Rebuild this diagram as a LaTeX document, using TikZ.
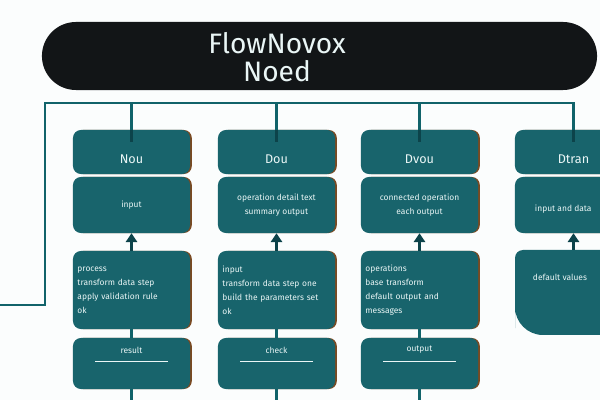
\documentclass[tikz,border=0pt]{standalone}
\usepackage{fontspec}
\setmainfont{Fira Sans}
\usepackage{tikz}
\usepackage{xcolor}
\usetikzlibrary{arrows.meta,positioning,shadows,calc}
\definecolor{pagebg}{HTML}{FBFDFD}
\definecolor{barblack}{HTML}{121517}
\definecolor{cardteal}{HTML}{18646C}
\definecolor{wireteal}{HTML}{11636A}
\definecolor{arrowdark}{HTML}{0C434A}
\definecolor{edgebrown}{HTML}{7A4A22}
\definecolor{textwhite}{HTML}{EAF6F6}
\tikzset{
  titlebar/.style={fill=barblack,rounded corners=0.85cm,
                   minimum width=13.875cm,minimum height=1.7cm,inner sep=0pt},
  card/.style={fill=cardteal,rounded corners=0.2cm,minimum width=2.925cm,
               inner sep=3pt,align=center,text=textwhite,
               drop shadow={shadow xshift=1.3pt,shadow yshift=0pt,fill=edgebrown,opacity=1}},
  headcard/.style={card,minimum height=1.1cm,font=\fontsize{9}{10}\selectfont,
                   text height=0.55cm,text depth=0pt},
  opcard/.style={card,minimum height=1.4cm,font=\fontsize{6}{10}\selectfont},
  stepcard/.style={card,minimum height=1.95cm,font=\fontsize{6}{10}\selectfont,
                   text width=2.7cm,align=left},
  outcard/.style={card,minimum height=1.275cm},
  wire/.style={draw=wireteal,line width=2pt},
  innerwire/.style={draw=arrowdark,line width=2pt},
  uparr/.style={-{Triangle[length=2.2mm,width=2.8mm]},draw=arrowdark,line width=1.6pt},
  cardrule/.style={draw=textwhite,line width=0.6pt},
  smalltxt/.style={text=textwhite,font=\fontsize{6}{8}\selectfont}
}
\begin{document}
\begin{tikzpicture}[x=0.025cm,y=-0.025cm,>=Latex]
  \fill[pagebg] (0,0) rectangle (600,400);
  \useasboundingbox (0,0) rectangle (600,400);

  \node[titlebar] (title) at (319.5,56) {};
  \node[text=textwhite,font=\fontsize{20}{20}\selectfont,align=center] (titletxt) at (277,57) {FlowNovox\\Noed};

  \coordinate (busL) at (45,103);
  \coordinate (busR) at (573.5,103);
  \coordinate (leftend) at (0,305);
  \coordinate (floor) at (0,400);

  % column 1
  \node[headcard] (c1a) at (131.5,152) {Nou};
  \node[opcard] (c1b) at (131.5,205) {input};
  \node[stepcard] (c1c) at (131.5,290) {process\\transform data step\\apply validation rule\\ok};
  \node[outcard] (c1d) at (131.5,363.5) {};
  % column 2
  \node[headcard] (c2a) at (276.5,152) {Dou};
  \node[opcard] (c2b) at (276.5,205) {operation detail text\\summary output};
  \node[stepcard] (c2c) at (276.5,290) {input\\transform data step one\\build the parameters set\\ok};
  \node[outcard] (c2d) at (276.5,363.5) {};
  % column 3
  \node[headcard] (c3a) at (419.5,152) {Dvou};
  \node[opcard] (c3b) at (419.5,205) {connected operation\\each output};
  \node[stepcard] (c3c) at (419.5,290) {operations\\base transform\\default output and\\messages};
  \node[outcard] (c3d) at (419.5,363.5) {};
  % column 4
  \node[headcard] (c4a) at (573.5,152) {Dtran};
  \node[opcard] (c4b) at (573.5,205) {};
  \node[smalltxt,anchor=west] (c4btxt) at (530,209) {input and data};
  \fill[cardteal] (573.5,250) [rounded corners=0.2cm] -- (632,250) -- (632,335)
    [rounded corners=0.7cm] -- (515,335) -- (515,300) [rounded corners=0.2cm] -- (515,250) -- cycle;
  \coordinate (c4top) at (573.5,250);
  \node[smalltxt,anchor=west] (c4c) at (528,277) {default values};

  \node[smalltxt] (c1dlbl) at ([yshift=0.34cm]c1d.center) {result};
  \node[smalltxt] (c2dlbl) at ([yshift=0.34cm]c2d.center) {check};
  \node[smalltxt] (c3dlbl) at ([yshift=0.34cm]c3d.center) {output};
  \foreach \col in {c1d,c2d,c3d}
    \draw[cardrule] ([xshift=-0.91cm,yshift=0.06cm]\col.center) -- ([xshift=0.91cm,yshift=0.06cm]\col.center);

  \draw[wire] (leftend) -| (busL) -- (busR) -- (c4a.north);
  \draw[innerwire] (c4a.north) -- ([yshift=-0.3cm]c4a.north);
  \foreach \col in {c1a,c2a,c3a}{
    \draw[wire] (\col.north |- busL) -- (\col.north);
    \draw[innerwire] (\col.north) -- ([yshift=-0.3cm]\col.north);
  }

  \draw[uparr] (c1c) -- (c1b);
  \draw[uparr] (c2c) -- (c2b);
  \draw[uparr] (c3c) -- (c3b);
  \draw[uparr] (c4top) -- (c4b.south);

  \draw[wire] (c1c) -- (c1d);
  \draw[wire] (c2c) -- (c2d);
  \draw[wire] (c3c) -- (c3d);
  \draw[wire] (c1d.south) -- (c1d.south |- floor);
  \draw[wire] (c2d.south) -- (c2d.south |- floor);
  \draw[wire] (c3d.south) -- (c3d.south |- floor);
\end{tikzpicture}
\end{document}
